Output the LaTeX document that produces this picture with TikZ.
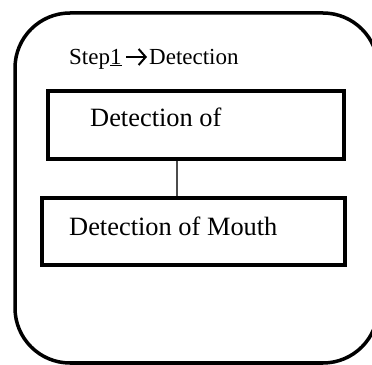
\documentclass[tikz,border=0pt]{standalone}
\usepackage{fontspec}
\setmainfont{Liberation Serif}
\usetikzlibrary{arrows.meta}
\begin{document}
\begin{tikzpicture}[x=1bp,y=1bp,
  boxstyle/.style={draw=black,line width=4bp,rectangle,inner sep=0pt},
  bigtext/.style={inner sep=0pt,anchor=base west,font=\fontsize{26.4bp}{30bp}\selectfont},
  steptext/.style={inner sep=0pt,anchor=base west,font=\fontsize{23bp}{27bp}\selectfont}]
\useasboundingbox (0,0) rectangle (372,365);
\draw[line width=3.5bp,rounded corners=55bp] (15,2) rectangle (378,352);
\node[boxstyle,minimum width=296bp,minimum height=67.5bp] (b1) at (196,239.75) {};
\node[boxstyle,minimum width=302.5bp,minimum height=67bp] (b2) at (193.75,133.5) {};
\node[steptext] (st) at (69,301) {Step\underline{1}};
\node[steptext] (det) at (149,301) {Detection};
\coordinate (a1) at (126,308);
\coordinate (a2) at (147,308);
\draw[line width=2bp,-{Straight Barb[length=7bp,width=16bp,line width=2bp]}] (a1) -- (a2);
\node[bigtext] (t1) at (90,238.5) {Detection of};
\node[bigtext] (t2) at (69,130) {Detection of Mouth};
\coordinate (cx) at (177,0);
\draw[line width=1.5bp,black!70] (b1.south -| cx) -- (b2.north -| cx);
\end{tikzpicture}
\end{document}
